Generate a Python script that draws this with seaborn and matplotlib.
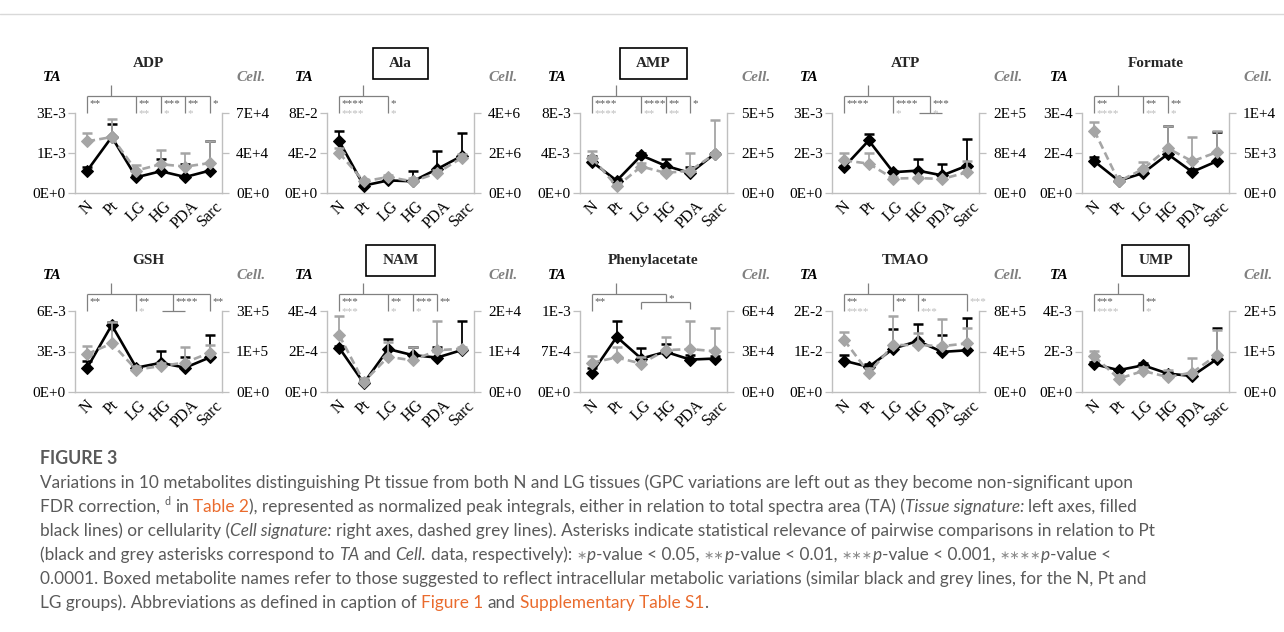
import numpy as np
import matplotlib
matplotlib.use("Agg")
import matplotlib.pyplot as plt
import seaborn as sns
from matplotlib.patches import Rectangle
from matplotlib.lines import Line2D

# ---------------- data ----------------
CATEGORIES = ['N', 'Pt', 'LG', 'HG', 'PDA', 'Sarc']
BOXED = ['Ala', 'AMP', 'NAM', 'UMP']

ADP_TA = [0.70e-3, 1.75e-3, 0.49e-3, 0.68e-3, 0.50e-3, 0.70e-3]
ADP_TA_ERR = [0.10e-3, 0.40e-3, 0.08e-3, 0.38e-3, 0.40e-3, 0.93e-3]
ADP_CELL = [4.52e4, 4.90e4, 1.96e4, 2.52e4, 2.31e4, 2.62e4]
ADP_CELL_ERR = [0.70e4, 1.60e4, 0.50e4, 1.26e4, 1.20e4, 1.93e4]
ADP_TA_TICKS = ['0E+0', '1E-3', '3E-3']
ADP_CELL_TICKS = ['0E+0', '4E+4', '7E+4']
ADP_SIG = [('N', '**', ''), ('LG', '**', '**'), ('HG', '***', '*'), ('PDA', '**', '*'), ('Sarc', '*', '')]

ALA_TA = [5.17e-2, 0.74e-2, 1.26e-2, 1.17e-2, 2.40e-2, 3.70e-2]
ALA_TA_ERR = [1.07e-2, 0.15e-2, 0.25e-2, 1.00e-2, 1.84e-2, 2.30e-2]
ALA_CELL = [2.00e6, 0.58e6, 0.80e6, 0.58e6, 1.00e6, 1.76e6]
ALA_CELL_ERR = [0.25e6, 0.10e6, 0.10e6, 0.15e6, 0.15e6, 0.20e6]
ALA_TA_TICKS = ['0E+0', '4E-2', '8E-2']
ALA_CELL_TICKS = ['0E+0', '2E+6', '4E+6']
ALA_SIG = [('N', '****', '****'), ('LG', '*', '*')]

AMP_TA = [3.10e-3, 1.23e-3, 3.76e-3, 2.72e-3, 2.00e-3, 3.92e-3]
AMP_TA_ERR = [0.58e-3, 0.20e-3, 0.24e-3, 0.72e-3, 0.64e-3, 0.10e-3]
AMP_CELL = [1.97e5, 0.37e5, 1.49e5, 1.13e5, 1.26e5, 2.20e5]
AMP_CELL_ERR = [0.37e5, 0.15e5, 0.20e5, 0.15e5, 0.99e5, 1.90e5]
AMP_TA_TICKS = ['0E+0', '4E-3', '8E-3']
AMP_CELL_TICKS = ['0E+0', '2E+5', '5E+5']
AMP_SIG = [('N', '****', '****'), ('LG', '****', '**'), ('HG', '**', '**'), ('PDA', '*', '')]

ATP_TA = [0.98e-3, 1.97e-3, 0.78e-3, 0.84e-3, 0.66e-3, 1.02e-3]
ATP_TA_ERR = [0.05e-3, 0.24e-3, 0.05e-3, 0.44e-3, 0.43e-3, 1.00e-3]
ATP_CELL = [6.53e4, 5.87e4, 2.88e4, 3.00e4, 2.80e4, 4.13e4]
ATP_CELL_ERR = [1.47e4, 2.13e4, 0.30e4, 0.30e4, 0.30e4, 2.20e4]
ATP_TA_TICKS = ['0E+0', '2E-3', '3E-3']
ATP_CELL_TICKS = ['0E+0', '8E+4', '2E+5']
ATP_SIG = [('N', '****', ''), ('LG', '****', '*'), (('HG', 'PDA'), '***', '*')]

FORMATE_TA = [1.19e-4, 0.46e-4, 0.75e-4, 1.46e-4, 0.79e-4, 1.19e-4]
FORMATE_TA_ERR = [0.16e-4, 0.10e-4, 0.10e-4, 1.06e-4, 0.10e-4, 1.09e-4]
FORMATE_CELL = [7.80e3, 1.46e3, 3.00e3, 5.60e3, 3.96e3, 5.10e3]
FORMATE_CELL_ERR = [1.10e3, 0.30e3, 0.90e3, 2.80e3, 3.00e3, 2.70e3]
FORMATE_TA_TICKS = ['0E+0', '2E-4', '3E-4']
FORMATE_CELL_TICKS = ['0E+0', '5E+3', '1E+4']
FORMATE_SIG = [('N', '**', '****'), ('LG', '**', '**'), ('HG', '**', '*')]

GSH_TA = [1.80e-3, 4.96e-3, 1.80e-3, 2.16e-3, 1.80e-3, 2.56e-3]
GSH_TA_ERR = [0.50e-3, 0.25e-3, 0.10e-3, 0.86e-3, 0.80e-3, 1.64e-3]
GSH_CELL = [1.17e5, 1.50e5, 0.69e5, 0.80e5, 0.91e5, 1.21e5]
GSH_CELL_ERR = [0.25e5, 0.67e5, 0.10e5, 0.10e5, 0.49e5, 0.24e5]
GSH_TA_TICKS = ['0E+0', '3E-3', '6E-3']
GSH_CELL_TICKS = ['0E+0', '1E+5', '3E+5']
GSH_SIG = [('N', '**', ''), ('LG', '**', '*'), (('HG', 'PDA'), '****', ''), ('Sarc', '**', '')]

NAM_TA = [2.18e-4, 0.44e-4, 2.12e-4, 1.82e-4, 1.70e-4, 2.07e-4]
NAM_TA_ERR = [0.09e-4, 0.14e-4, 0.49e-4, 0.41e-4, 0.53e-4, 1.44e-4]
NAM_CELL = [1.40e4, 0.25e4, 0.87e4, 0.78e4, 1.03e4, 1.07e4]
NAM_CELL_ERR = [0.48e4, 0.10e4, 0.37e4, 0.32e4, 0.72e4, 0.05e4]
NAM_TA_TICKS = ['0E+0', '2E-4', '4E-4']
NAM_CELL_TICKS = ['0E+0', '1E+4', '2E+4']
NAM_SIG = [('N', '***', '***'), ('LG', '**', '*'), ('HG', '***', '*'), ('PDA', '**', '')]

PHENYL_TA = [0.336e-3, 0.952e-3, 0.578e-3, 0.694e-3, 0.560e-3, 0.578e-3]
PHENYL_TA_ERR = [0.084e-3, 0.280e-3, 0.190e-3, 0.130e-3, 0.084e-3, 0.050e-3]
PHENYL_CELL = [2.18e4, 2.56e4, 2.10e4, 3.10e4, 3.18e4, 3.02e4]
PHENYL_CELL_ERR = [0.46e4, 0.74e4, 0.50e4, 0.98e4, 2.08e4, 1.69e4]
PHENYL_TA_TICKS = ['0E+0', '7E-4', '1E-3']
PHENYL_CELL_TICKS = ['0E+0', '3E+4', '6E+4']
PHENYL_SIG = [('N', '**', ''), (('LG', 'HG', 'PDA'), '*', '')]

TMAO_TA = [0.77e-2, 0.62e-2, 1.07e-2, 1.26e-2, 0.99e-2, 1.03e-2]
TMAO_TA_ERR = [0.14e-2, 0.07e-2, 0.48e-2, 0.41e-2, 0.41e-2, 0.80e-2]
TMAO_CELL = [5.12e5, 1.89e5, 4.64e5, 4.64e5, 4.53e5, 4.80e5]
TMAO_CELL_ERR = [0.77e5, 0.50e5, 2.86e5, 1.20e5, 2.65e5, 1.54e5]
TMAO_TA_TICKS = ['0E+0', '1E-2', '2E-2']
TMAO_CELL_TICKS = ['0E+0', '4E+5', '8E+5']
TMAO_SIG = [('N', '**', '****'), ('LG', '**', ''), ('HG', '*', '***'), ('Sarc', '', '***')]

UMP_TA = [1.37e-3, 1.08e-3, 1.32e-3, 0.91e-3, 0.79e-3, 1.62e-3]
UMP_TA_ERR = [0.10e-3, 0.08e-3, 0.12e-3, 0.08e-3, 0.08e-3, 1.52e-3]
UMP_CELL = [0.88e5, 0.33e5, 0.52e5, 0.37e5, 0.48e5, 0.91e5]
UMP_CELL_ERR = [0.13e5, 0.08e5, 0.10e5, 0.17e5, 0.37e5, 0.62e5]
UMP_TA_TICKS = ['0E+0', '2E-3', '4E-3']
UMP_CELL_TICKS = ['0E+0', '1E+5', '2E+5']
UMP_SIG = [('N', '***', '****'), ('LG', '**', '*')]

# axis ranges (Excel-like maxima behind the rounded labels)
AXIS_MAX = {
    'ADP': (2.5e-3, 7e4), 'Ala': (8e-2, 4e6), 'AMP': (8e-3, 4.5e5), 'ATP': (3e-3, 1.6e5),
    'Formate': (3e-4, 1e4), 'GSH': (6e-3, 2.5e5), 'NAM': (4e-4, 2e4),
    'Phenylacetate': (1.4e-3, 6e4), 'TMAO': (2e-2, 8e5), 'UMP': (4e-3, 2e5),
}

PANELS = [
    ('ADP', ADP_TA, ADP_TA_ERR, ADP_CELL, ADP_CELL_ERR, ADP_TA_TICKS, ADP_CELL_TICKS, ADP_SIG),
    ('Ala', ALA_TA, ALA_TA_ERR, ALA_CELL, ALA_CELL_ERR, ALA_TA_TICKS, ALA_CELL_TICKS, ALA_SIG),
    ('AMP', AMP_TA, AMP_TA_ERR, AMP_CELL, AMP_CELL_ERR, AMP_TA_TICKS, AMP_CELL_TICKS, AMP_SIG),
    ('ATP', ATP_TA, ATP_TA_ERR, ATP_CELL, ATP_CELL_ERR, ATP_TA_TICKS, ATP_CELL_TICKS, ATP_SIG),
    ('Formate', FORMATE_TA, FORMATE_TA_ERR, FORMATE_CELL, FORMATE_CELL_ERR, FORMATE_TA_TICKS, FORMATE_CELL_TICKS, FORMATE_SIG),
    ('GSH', GSH_TA, GSH_TA_ERR, GSH_CELL, GSH_CELL_ERR, GSH_TA_TICKS, GSH_CELL_TICKS, GSH_SIG),
    ('NAM', NAM_TA, NAM_TA_ERR, NAM_CELL, NAM_CELL_ERR, NAM_TA_TICKS, NAM_CELL_TICKS, NAM_SIG),
    ('Phenylacetate', PHENYL_TA, PHENYL_TA_ERR, PHENYL_CELL, PHENYL_CELL_ERR, PHENYL_TA_TICKS, PHENYL_CELL_TICKS, PHENYL_SIG),
    ('TMAO', TMAO_TA, TMAO_TA_ERR, TMAO_CELL, TMAO_CELL_ERR, TMAO_TA_TICKS, TMAO_CELL_TICKS, TMAO_SIG),
    ('UMP', UMP_TA, UMP_TA_ERR, UMP_CELL, UMP_CELL_ERR, UMP_TA_TICKS, UMP_CELL_TICKS, UMP_SIG),
]

CAPTION_TITLE = 'FIGURE 3'
CAPTION_LINES = [
    [('Variations in 10 metabolites distinguishing Pt tissue from both N and LG tissues (GPC variations are left out as they become non-significant upon', 'n')],
    [('FDR correction, ', 'n'), ('d', 'sup'), (' in ', 'n'), ('Table 2', 'o'),
     ('), represented as normalized peak integrals, either in relation to total spectra area (TA) (', 'n'),
     ('Tissue signature:', 'i'), (' left axes, filled', 'n')],
    [('black lines) or cellularity (', 'n'), ('Cell signature:', 'i'),
     (' right axes, dashed grey lines). Asterisks indicate statistical relevance of pairwise comparisons in relation to Pt', 'n')],
    [('(black and grey asterisks correspond to ', 'n'), ('TA', 'i'), (' and ', 'n'), ('Cell.', 'i'),
     (' data, respectively): ', 'n'), ('\u2217', 'ast'), ('p', 'i'), ('-value < 0.05, ', 'n'),
     ('\u2217\u2217', 'ast'), ('p', 'i'), ('-value < 0.01, ', 'n'), ('\u2217\u2217\u2217', 'ast'), ('p', 'i'),
     ('-value < 0.001, ', 'n'), ('\u2217\u2217\u2217\u2217', 'ast'), ('p', 'i'), ('-value <', 'n')],
    [('0.0001. Boxed metabolite names refer to those suggested to reflect intracellular metabolic variations (similar black and grey lines, for the N, Pt and', 'n')],
    [('LG groups). Abbreviations as defined in caption of ', 'n'), ('Figure 1', 'o'), (' and ', 'n'),
     ('Supplementary Table S1', 'o'), ('.', 'n')],
]

# ---------------- style ----------------
sns.set_style('white')
plt.rcParams['font.family'] = ['Liberation Serif', 'DejaVu Serif']

W, H = 1284, 632
GREY = '#a5a5a5'
SPINE = '#bfbfbf'
BRACKET = '#808080'
STAR_DARK = '#595959'
STAR_LIGHT = '#bcbcbc'
TEXT = '#5a5a5a'
ORANGE = '#ea6b2d'
CAP_FONT = ['Lato', 'DejaVu Sans']

LEFTS = [75, 327, 580, 832, 1082]
ROWS = [(113, 193), (311, 392)]
AX_W = 147

MAIN_Y, STEM_TOP = 1.21, 1.35
STAR_SIZE = 8
TA_BASE, CELL_BASE = 1.09, 0.965   # baselines (axes fraction) of the two asterisk rows

fig = plt.figure(figsize=(W / 100, H / 100), dpi=100)
fig.add_artist(Line2D([0, 1], [1 - 14 / H, 1 - 14 / H], color='#d9d9d9', lw=1.0, transform=fig.transFigure))

x = np.arange(len(CATEGORIES))
title_texts = []


def draw_sig(ax, sig):
    trans = ax.get_xaxis_transform()
    kw = dict(transform=trans, color=BRACKET, lw=0.9, clip_on=False, solid_capstyle='butt')
    stems = []
    for grp, ta_s, cell_s in sig:
        if isinstance(grp, tuple):
            xs = [CATEGORIES.index(g) for g in grp]
            xm = float(np.mean(xs))
            if len(xs) > 2:
                sub_y = 1.115
                ax.plot([xs[0], xs[-1]], [sub_y, sub_y], **kw)
                for xi in (xs[0], xs[-1]):
                    ax.plot([xi, xi], [sub_y, 1.03], **kw)
                ta_b = 1.12
            else:
                sub_y = 1.0
                ax.plot([xs[0] + 0.05, xs[-1]], [sub_y, sub_y], **kw)
                ta_b = TA_BASE
            ax.plot([xm, xm], [MAIN_Y, sub_y], **kw)
            sx = xm
        else:
            sx = CATEGORIES.index(grp)
            ax.plot([sx, sx], [MAIN_Y, 1.0], **kw)
            ta_b = TA_BASE
        stems.append(sx)
        if ta_s:
            ax.text(sx + 0.1, ta_b, ta_s, transform=trans, fontsize=STAR_SIZE,
                    color=STAR_DARK, ha='left', va='baseline')
            cb = CELL_BASE
        else:
            cb = TA_BASE
        if cell_s:
            ax.text(sx + 0.1, cb, cell_s, transform=trans, fontsize=STAR_SIZE,
                    color=STAR_LIGHT, ha='left', va='baseline')
    ax.plot([min(stems), max(stems)], [MAIN_Y, MAIN_Y], **kw)
    ax.plot([0.95, 0.95], [MAIN_Y, STEM_TOP], **kw)


for i, (name, ta, ta_err, cell, cell_err, ta_ticks, cell_ticks, sig) in enumerate(PANELS):
    top, bottom = ROWS[i // 5]
    left = LEFTS[i % 5]
    ax = fig.add_axes([left / W, (H - bottom) / H, AX_W / W, (bottom - top) / H])
    ta_max, cell_max = AXIS_MAX[name]
    ta = np.asarray(ta)
    cell = np.asarray(cell)

    # TA (left axis): black solid
    ax.errorbar(x, ta, yerr=[np.zeros(6), np.asarray(ta_err)], fmt='none', ecolor='black',
                elinewidth=1.3, capsize=0, zorder=2)
    ax.plot(x, ta + np.asarray(ta_err), linestyle='none', marker='_', markersize=7,
            mew=1.8, color='black', zorder=2)
    sns.lineplot(x=x, y=ta, ax=ax, color='black', linewidth=1.9, marker='D', markersize=6.5,
                 markeredgecolor='black', zorder=3)

    ax.set_xlim(-0.5, 5.5)
    ax.set_ylim(0, ta_max)
    ax.set_yticks([0, ta_max / 2, ta_max])
    ax.set_yticklabels(ta_ticks)
    ax.set_xticks(x)
    ax.set_xticklabels(CATEGORIES, rotation=45, ha='center')
    ax.tick_params(axis='y', which='both', left=True, length=5, width=0.9, color=SPINE,
                   pad=1.5, labelsize=11, labelcolor='black')
    ax.tick_params(axis='x', length=0, pad=4, labelsize=11.5, labelcolor='black')
    for s in ('top', 'right'):
        ax.spines[s].set_visible(False)
    ax.spines['left'].set_color(SPINE)
    ax.spines['bottom'].set_color(SPINE)
    ax.spines['left'].set_linewidth(1.0)
    ax.spines['bottom'].set_linewidth(1.0)
    ax.set_xlabel('')
    ax.set_ylabel('')

    # Cell (right axis): grey dashed
    ax2 = ax.twinx()
    ax2.errorbar(x, cell, yerr=[np.zeros(6), np.asarray(cell_err)], fmt='none', ecolor=GREY,
                 elinewidth=1.3, capsize=0, zorder=2)
    ax2.plot(x, cell + np.asarray(cell_err), linestyle='none', marker='_', markersize=7,
             mew=1.8, color=GREY, zorder=2)
    sns.lineplot(x=x, y=cell, ax=ax2, color=GREY, linewidth=1.9, linestyle=(0, (3, 1.6)),
                 marker='D', markersize=6.5, markeredgecolor=GREY, zorder=3)
    ax2.set_ylim(0, cell_max)
    ax2.set_yticks([0, cell_max / 2, cell_max])
    ax2.set_yticklabels(cell_ticks)
    ax2.tick_params(axis='y', which='both', right=True, length=5, width=0.9, color=SPINE,
                    pad=5, labelsize=11, labelcolor='black')
    for s in ('top', 'left', 'bottom'):
        ax2.spines[s].set_visible(False)
    ax2.spines['right'].set_color(SPINE)
    ax2.spines['right'].set_linewidth(1.0)
    ax2.set_xlabel('')
    ax2.set_ylabel('')
    ax2.set_xlim(-0.5, 5.5)

    # labels
    t = ax.text(0.5, 1.62, name, transform=ax.transAxes, ha='center', va='center',
                fontsize=11, fontweight='bold')
    title_texts.append((name, t))
    ax.text(-0.22, 1.44, 'TA', transform=ax.transAxes, ha='left', va='center',
            fontsize=11, fontweight='bold', style='italic', color='black')
    ax.text(1.30, 1.44, 'Cell.', transform=ax.transAxes, ha='right', va='center',
            fontsize=11, fontweight='bold', style='italic', color='#808080')
    draw_sig(ax, sig)

fig.canvas.draw()
renderer = fig.canvas.get_renderer()

# boxes around boxed metabolite names
for name, t in title_texts:
    if name in BOXED:
        bb = t.get_window_extent(renderer)
        bw = bb.width + 32
        bh = 31
        cx = (bb.x0 + bb.x1) / 2
        cy = (bb.y0 + bb.y1) / 2
        fig.add_artist(Rectangle(((cx - bw / 2) / W, (cy - bh / 2) / H), bw / W, bh / H,
                                 transform=fig.transFigure, fill=False, ec='black', lw=1.2))


# caption
def text_width(s, **kw):
    t = fig.text(0, 0, s, **kw)
    w = t.get_window_extent(renderer).width
    t.remove()
    return w


base_size = 12
full_l1 = ''.join(r[0] for r in CAPTION_LINES[0])
w_l1 = text_width(full_l1, fontsize=base_size, family=CAP_FONT)
cap_size = base_size * 1088 / w_l1
space_w = text_width('a a', fontsize=cap_size, family=CAP_FONT) - text_width('aa', fontsize=cap_size, family=CAP_FONT)

fig.text(40 / W, 1 - 464 / H, CAPTION_TITLE, fontsize=cap_size * 1.03, family=CAP_FONT,
         color=TEXT, ha='left', va='baseline', fontweight='bold')

baselines = [488, 512, 536, 560, 584, 608]
for line, base in zip(CAPTION_LINES, baselines):
    xp = 40
    for txt, kind in line:
        lead = len(txt) - len(txt.lstrip(' '))
        trail = len(txt) - len(txt.rstrip(' '))
        core = txt.strip(' ')
        xp += lead * space_w
        kw = dict(fontsize=cap_size, color=TEXT, family=CAP_FONT, ha='left', va='baseline')
        yb = base
        if kind == 'i':
            kw['style'] = 'italic'
        elif kind == 'o':
            kw['color'] = ORANGE
        elif kind == 'sup':
            kw['fontsize'] = cap_size * 0.62
            yb = base - 7
        elif kind == 'ast':
            kw['fontsize'] = cap_size * 0.72
            kw['color'] = '#8a8a8a'
            yb = base - 1
        tt = fig.text(xp / W, 1 - yb / H, core, **kw)
        xp += tt.get_window_extent(renderer).width + trail * space_w

fig.savefig('out.png', dpi=100)
